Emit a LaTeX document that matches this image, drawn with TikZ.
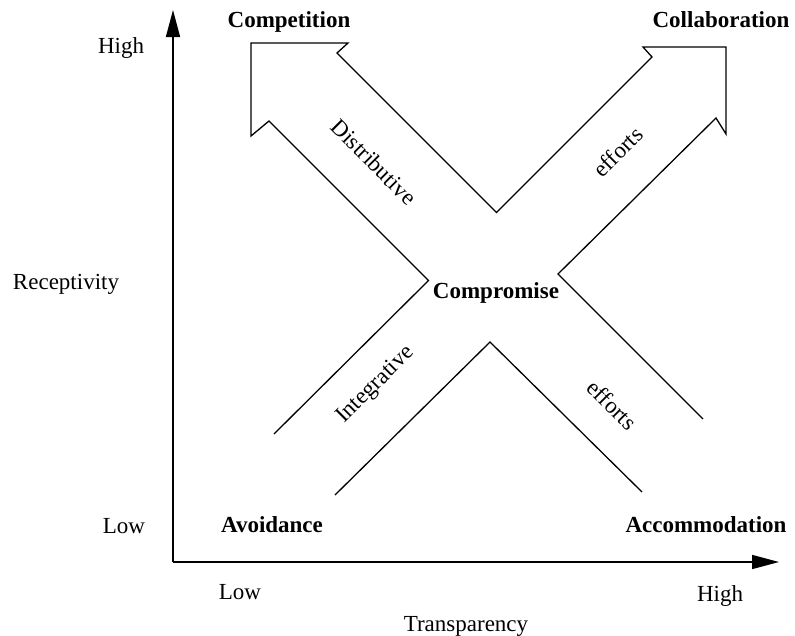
\documentclass[tikz,border=0pt]{standalone}
\usepackage{fontspec}
\setmainfont{Liberation Serif}
\usetikzlibrary{arrows.meta}
\begin{document}
\begin{tikzpicture}[x=1pt,y=-1pt,
  lbl/.style={font=\fontsize{23}{27}\selectfont, inner sep=0pt, anchor=base},
  blbl/.style={lbl, font=\fontsize{23}{27}\selectfont\bfseries},
  diag/.style={font=\fontsize{23}{27}\selectfont, inner sep=0pt, anchor=center},
  band/.style={line width=1.3pt, line join=miter},
  axis/.style={line width=1.6pt, -{Triangle[length=27pt,width=14pt]}}]
\useasboundingbox (0,0) rectangle (795,635);

% axes
\coordinate (O) at (173,562);
\coordinate (ytop) at (173,10);
\coordinate (xend) at (779,562);
\draw[axis] (O) -- (ytop);
\draw[axis] (O) -- (xend);

% band outlines
\draw[band] (703,419) -- (558,274) -- (716,118) -- (726,134) -- (726,47)
  -- (643,47) -- (652,57) -- (496.5,212.5) -- (337,53) -- (348,43)
  -- (251,43) -- (251,136) -- (269,121) -- (428.5,280.5) -- (274,434);
\draw[band] (335,495) -- (490,342) -- (642,492);

% axis labels
\node[lbl] (yhigh) at (121,53) {High};
\node[lbl] (ylab) at (66,289) {Receptivity};
\node[lbl] (ylow) at (124,533) {Low};
\node[lbl] (xlow) at (240,599) {Low};
\node[lbl] (xhigh) at (720,601) {High};
\node[lbl] (xlab) at (466,631) {Transparency};

% corner labels
\node[blbl] (comp) at (289,27) {Competition};
\node[blbl] (coll) at (721,27) {Collaboration};
\node[blbl] (avoid) at (272,532) {Avoidance};
\node[blbl] (accom) at (706,532) {Accommodation};
\node[blbl] (compr) at (496,298) {Compromise};

% diagonal labels
\node[diag, rotate=-45] (dist) at (374,162) {Distributive};
\node[diag, rotate=45] (eff1) at (618,152) {efforts};
\node[diag, rotate=45] (integ) at (376,385) {Integrative};
\node[diag, rotate=-45] (eff2) at (612,405) {efforts};
\end{tikzpicture}
\end{document}
